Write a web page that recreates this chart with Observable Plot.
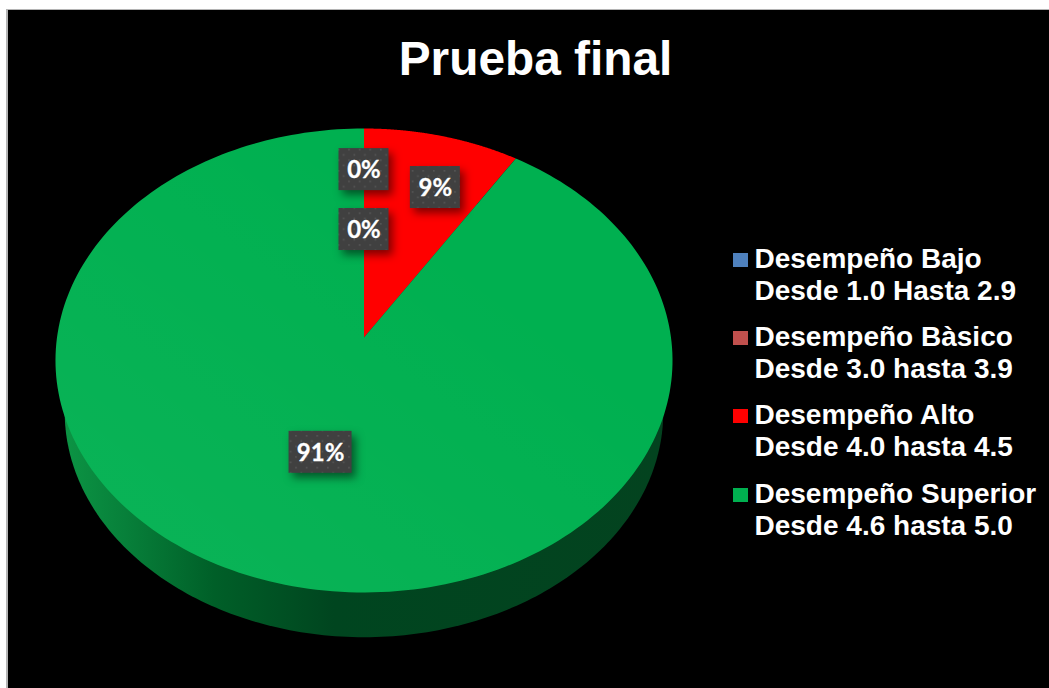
<!DOCTYPE html>
<html lang="es">
<head>
<meta charset="utf-8">
<title>Prueba final</title>
<script src="https://cdn.jsdelivr.net/npm/d3@7"></script>
<script src="https://cdn.jsdelivr.net/npm/@observablehq/plot@0.6"></script>
<style>
  html, body { margin: 0; padding: 0; background: #fff; overflow: hidden; }
  #sheet {
    position: absolute; left: 6px; top: 9px; width: 1043px; height: 679px;
    background: #000; border-left: 2px solid #b4b4b4; border-top: 1px solid #b4b4b4;
    box-sizing: border-box; overflow: hidden;
  }
  #sheet svg { position: absolute; left: 0; top: 0; background: #000; }
  #title {
    position: absolute; left: 0; width: 1055px; top: 20px; text-align: center;
    font: bold 47.8px "Liberation Sans", Arial, sans-serif; color: #fff; line-height: 58px;
  }
  #legend {
    position: absolute; left: 725px; top: 233px;
    font: bold 28px "Liberation Sans", Arial, sans-serif; color: #fff; line-height: 32px;
  }
  .entry { position: relative; padding-left: 21.5px; height: 78.2px; white-space: nowrap; }
  .swatch { position: absolute; left: 0; top: 10px; width: 15px; height: 14px; }
  .tag-box { filter: drop-shadow(4px 5px 4px rgba(0,0,0,.5)); }
</style>
</head>
<body>
<div id="sheet">
  <div id="chart"></div>
  <div id="title">Prueba final</div>
  <div id="legend"></div>
</div>
<script>
// Results of the final test, by performance band
const categories = ["Desempeño Bajo", "Desempeño Bàsico", "Desempeño Alto", "Desempeño Superior"];
const ranges = ["Desde 1.0 Hasta 2.9", "Desde 3.0 hasta 3.9", "Desde 4.0 hasta 4.5", "Desde 4.6 hasta 5.0"];
const shares = [0, 0, 9, 91];
const colors = ["#4F81BD", "#C0504D", "#FF0000", "#00B050"];

// Where each percentage tag sits on the disc: distance from the hub and clock angle in degrees
const tagRadius = [0.788, 0.493, 0.741, 0.495];
const tagAngle = [0, 0, 19.6, 195.8];

// Tilted-disc view: points on the unit circle are foreshortened towards the back
const tilt = 0.0991;
const project = (turn, radius = 1) => {
  const u = radius * Math.sin(turn), v = radius * Math.cos(turn);
  return {x: u / (1 + tilt * v), y: v / (1 + tilt * v)};
};

const circleSteps = d3.range(0, 361).map((d) => (d * Math.PI) / 180);
const rim = circleSteps.map((t) => project(t));

// Centre of the visible top ellipse, used to place the smaller rim underneath
const topCentreY = (d3.max(rim, (d) => d.y) + d3.min(rim, (d) => d.y)) / 2;
const rimScale = 0.97;
const rimDrop = 0.225;
const underside = rim.map((d) => ({
  x: d.x * rimScale,
  y: topCentreY + (d.y - topCentreY) * rimScale - rimDrop
}));

// Slices as closed outlines, clockwise from twelve o'clock
const total = d3.sum(shares);
const ends = Array.from(d3.cumsum(shares));
const slices = categories.flatMap((category, i) => {
  if (shares[i] === 0) return [];
  const a0 = ((ends[i] - shares[i]) / total) * 2 * Math.PI;
  const a1 = (ends[i] / total) * 2 * Math.PI;
  const arc = d3.range(0, 241).map((k) => project(a0 + ((a1 - a0) * k) / 240));
  return [{x: 0, y: 0}, ...arc, {x: 0, y: 0}].map((p) => ({...p, category}));
});
const largest = slices.filter((d) => d.category === categories[shares.indexOf(d3.max(shares))]);

const tags = categories.map((category, i) => {
  const p = project((tagAngle[i] * Math.PI) / 180, tagRadius[i]);
  return {...p, label: `${shares[i]}%`};
});

const defs = () => {
  const svg = d3.create("svg:defs");
  const side = svg.append("linearGradient").attr("id", "side-shade");
  [[0, "#0c9444"], [0.1, "#07803a"], [0.25, "#005f28"], [0.45, "#00451f"], [1, "#03431f"]].forEach(([o, c]) =>
    side.append("stop").attr("offset", o).attr("stop-color", c));
  const sheen = svg.append("linearGradient").attr("id", "top-sheen")
    .attr("x1", 0).attr("y1", 1).attr("x2", 0.7).attr("y2", 0.3);
  sheen.append("stop").attr("offset", 0).attr("stop-color", "#fff").attr("stop-opacity", 0.045);
  sheen.append("stop").attr("offset", 1).attr("stop-color", "#fff").attr("stop-opacity", 0);
  const dots = svg.append("pattern").attr("id", "tag-dots")
    .attr("patternUnits", "userSpaceOnUse").attr("width", 10.6).attr("height", 10.6);
  dots.append("rect").attr("width", 10.6).attr("height", 10.6).attr("fill", "#404040");
  [[1, 1], [6.3, 6.3]].forEach(([x, y]) =>
    dots.append("rect").attr("x", x).attr("y", y).attr("width", 1.6).attr("height", 1.6).attr("fill", "#565656"));
  return svg.node();
};

const tagBox = (rows, halfWidth) => Plot.rect(rows, {
  x1: "x", x2: "x", y1: "y", y2: "y",
  fill: "url(#tag-dots)", className: "tag-box",
  insetLeft: -halfWidth, insetRight: -halfWidth, insetTop: -21, insetBottom: -21
});

const chart = Plot.plot({
  width: 720,
  height: 678,
  margin: 0,
  x: {domain: [-1, 1], range: [48.5, 662.5], axis: null},
  y: {domain: [-1, 1], range: [556.7, 97.3], axis: null},
  color: {domain: categories, range: colors},
  marks: [
    defs,
    Plot.line(underside, {x: "x", y: "y", fill: "url(#side-shade)", stroke: "none"}),
    Plot.line(slices, {x: "x", y: "y", z: "category", fill: "category", stroke: "none"}),
    Plot.line(largest, {x: "x", y: "y", fill: "url(#top-sheen)", stroke: "none"}),
    tagBox(tags.filter((d) => d.label.length < 3), 25),
    tagBox(tags.filter((d) => d.label.length >= 3), 31.5),
    Plot.text(tags, {
      x: "x", y: "y", dy: 1, text: "label", fill: "white", stroke: "white", strokeWidth: 0.3,
      fontFamily: "Lato, sans-serif", fontWeight: 700, fontSize: 24
    })
  ]
});
document.getElementById("chart").append(chart);

// Legend: one swatch and two lines of text for each band
const legend = d3.select("#legend");
categories.forEach((category, i) => {
  const entry = legend.append("div").attr("class", "entry");
  entry.append("span").attr("class", "swatch").style("background", colors[i]);
  entry.append("div").text(category);
  entry.append("div").text(ranges[i]);
});
</script>
</body>
</html>
